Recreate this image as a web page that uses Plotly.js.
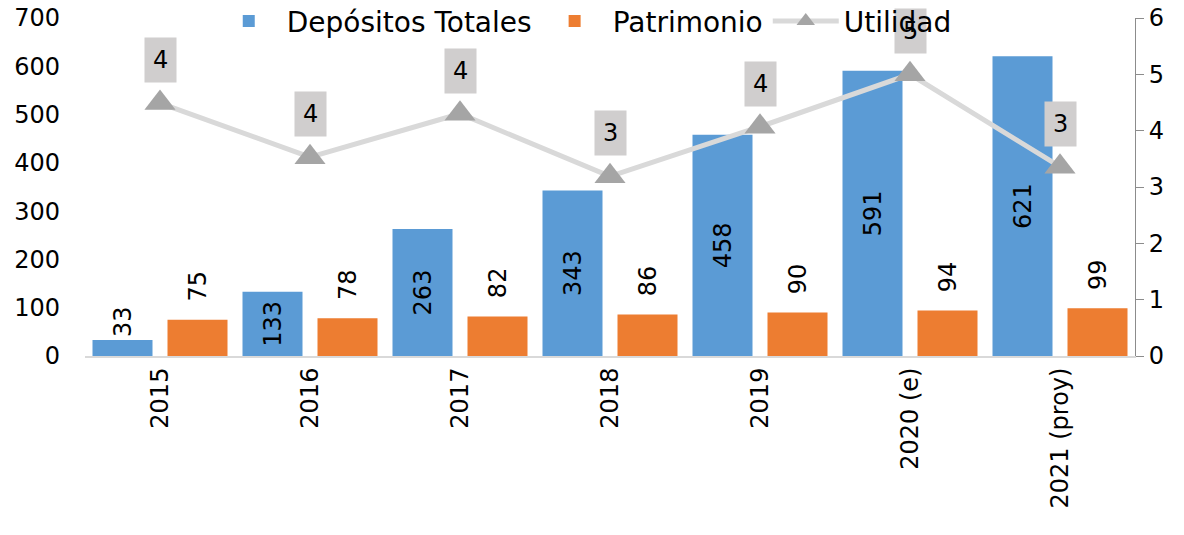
<html><head><meta charset="UTF-8"><title>Depósitos, Patrimonio y Utilidad</title>
<script src="https://cdn.plot.ly/plotly-3.0.1.min.js"></script>
<style>
  body, html { margin: 0; padding: 0; background: #ffffff; }
  #chart { width: 1184px; height: 535px; }
</style></head><body>
<div id="chart"></div>
<script>
    const years = ['2015', '2016', '2017', '2018', '2019', '2020 (e)', '2021 (proy)'];
    const depositos = [33, 133, 263, 343, 458, 591, 621];
    const patrimonio = [75, 78, 82, 86, 90, 94, 99];
    const utilidad = [4.49, 3.53, 4.30, 3.19, 4.07, 5.00, 3.36];

    const font = 'DejaVu Sans, sans-serif';

    const traceDep = {
        x: years, y: depositos, type: 'bar', name: 'Depósitos Totales',
        marker: { color: '#5b9bd5' },
        text: depositos.map(String), textposition: 'auto', textangle: -90,
        insidetextanchor: 'middle',
        textfont: { family: font, size: 24, color: '#000000' },
        insidetextfont: { family: font, size: 24, color: '#000000' },
        outsidetextfont: { family: font, size: 24, color: '#000000' }
    };
    const tracePat = {
        x: years, y: patrimonio, type: 'bar', name: 'Patrimonio',
        marker: { color: '#ed7d31' },
        texttemplate: '\u00a0\u00a0%{y}', textposition: 'outside', textangle: -90,
        textfont: { family: font, size: 24, color: '#000000' }
    };
    const traceUtil = {
        x: years, y: utilidad, type: 'scatter', mode: 'lines+markers', name: 'Utilidad',
        yaxis: 'y2',
        line: { color: '#d9d9d9', width: 5 },
        marker: { symbol: 'triangle-up', size: 27, color: '#a5a5a5' }
    };

    // gray boxed labels above the Utilidad points (x given as category index,
    // since labels like '2015' would otherwise be read as numbers)
    const annotations = years.map((yr, i) => ({
        x: i, y: utilidad[i], xref: 'x', yref: 'y2',
        text: String(Math.round(utilidad[i])),
        showarrow: false, yshift: 43, yanchor: 'middle',
        bgcolor: '#d0cece', borderpad: 8,
        font: { family: font, size: 24, color: '#000000' }
    }));

    const layout = {
        width: 1184, height: 535,
        margin: { l: 85, r: 49, t: 18, b: 179, autoexpand: false },
        paper_bgcolor: '#ffffff', plot_bgcolor: '#ffffff',
        font: { family: font, size: 24, color: '#000000' },
        barmode: 'group', bargap: 0, bargroupgap: 0.2,
        showlegend: true,
        legend: {
            orientation: 'h', x: 0.475, xanchor: 'center', y: 0.99, yanchor: 'middle',
            bgcolor: 'rgba(0,0,0,0)', font: { family: font, size: 28, color: '#000000' },
            itemwidth: 66, traceorder: 'normal'
        },
        xaxis: {
            type: 'category', categoryarray: years, range: [-0.5, years.length - 0.5],
            tickangle: -90, showgrid: false,
            showline: true, linecolor: '#d9d9d9', linewidth: 2,
            ticks: '', tickfont: { family: font, size: 24 }
        },
        yaxis: {
            range: [0, 700], dtick: 100, showgrid: false, zeroline: false,
            showline: false, ticks: '', ticklabelstandoff: 24,
            tickfont: { family: font, size: 24 }
        },
        yaxis2: {
            overlaying: 'y', side: 'right', range: [0, 6], dtick: 1,
            showgrid: false, zeroline: false, showline: true, linecolor: '#8c8c8c',
            ticks: 'outside', ticklen: 8, tickcolor: '#8c8c8c',
            tickfont: { family: font, size: 24 }
        },
        annotations: annotations
    };

    Plotly.newPlot('chart', [traceDep, tracePat, traceUtil], layout, { displayModeBar: false })
        .then(gd => {
            // legend text sits on top of the label boxes, as in the original
            const leg = gd.querySelector('g.legend');
            if (leg) leg.parentNode.appendChild(leg);
        });
</script>
</body></html>
